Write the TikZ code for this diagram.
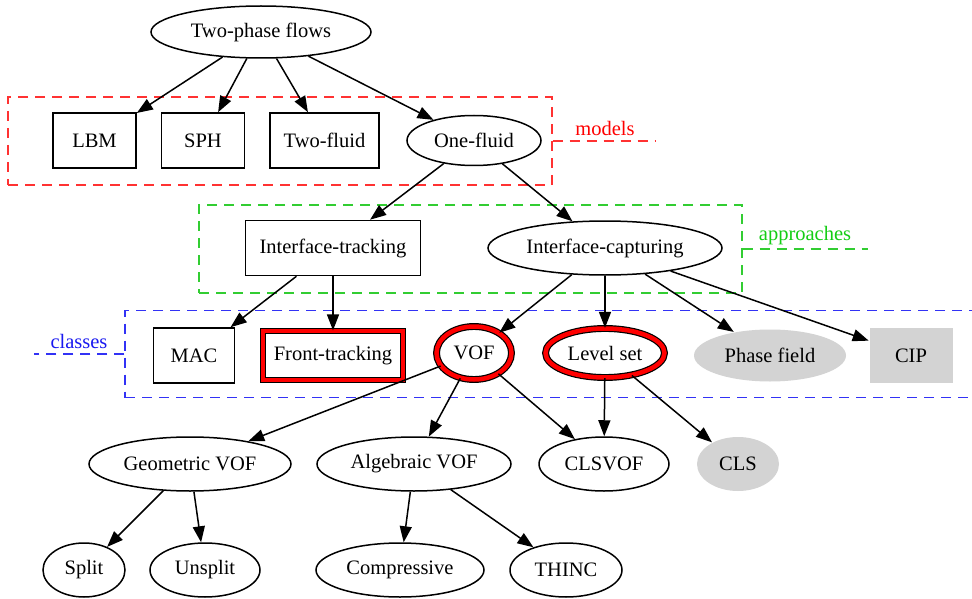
\documentclass[tikz,border=0pt]{standalone}
\usepackage{fontspec}
\setmainfont{Liberation Serif}
\usetikzlibrary{shapes.geometric,arrows.meta}
\definecolor{lgray}{RGB}{211,211,211}
\definecolor{mred}{RGB}{255,0,0}
\definecolor{mredl}{RGB}{255,50,50}
\definecolor{agreen}{RGB}{20,205,20}
\definecolor{agreenl}{RGB}{50,205,50}
\definecolor{cblue}{RGB}{25,25,240}
\definecolor{cbluel}{RGB}{50,50,245}

\begin{document}
\begin{tikzpicture}[x=1pt,y=-1pt,
    font=\fontsize{20.5}{24}\selectfont,
    every node/.style={inner sep=0pt},
    oval/.style={ellipse, draw, line width=1.5pt},
    box/.style={rectangle, draw, line width=1.6pt, minimum height=55pt},
    hilite/.style={line width=1.2pt, double=red, double distance=4.5pt},
    grayed/.style={fill=lgray, draw=none},
    edge/.style={line width=1.5pt, -{Triangle[length=16pt,width=12pt]}},
    cluster/.style={rectangle, draw, dash pattern=on 10pt off 7pt, line width=1.3pt},
    tag/.style={dash pattern=on 10pt off 7pt, line width=1.3pt}]
    \useasboundingbox (0,0) rectangle (972,599);

    % clusters
    \node[cluster, draw=mredl, minimum width=544pt, minimum height=88pt] (models) at (280,141) {};
    \node[cluster, draw=agreenl, minimum width=543pt, minimum height=88pt] (approaches) at (470.5,249) {};
    \node[cluster, draw=cbluel, minimum width=885pt, minimum height=87pt] (classes) at (567.5,354) {};

    % cluster labels
    \node[text=mred] (modelslbl) at (605,128) {models};
    \coordinate (models-end) at (655,141);
    \draw[tag, mredl] (models.east) -- (models-end);
    \node[text=agreen] (approacheslbl) at (805,236) {approaches};
    \coordinate (approaches-end) at (868,249);
    \draw[tag, agreenl] (approaches.east) -- (approaches-end);
    \node[text=cblue] (classeslbl) at (79,341) {classes};
    \coordinate (classes-end) at (34,354);
    \draw[tag, cbluel] (classes.west) -- (classes-end);

    % top
    \node[oval, minimum width=220pt, minimum height=52pt] (two) at (261,32) {Two-phase flows};

    % models
    \node[box, minimum width=83pt] (lbm) at (94.5,140.5) {LBM};
    \node[box, minimum width=83pt] (sph) at (203,140.5) {SPH};
    \node[box, minimum width=109pt] (twofluid) at (324.5,140.5) {Two-fluid};
    \node[oval, minimum width=134pt, minimum height=50pt] (onefluid) at (474,140.5) {One-fluid};

    % approaches
    \node[box, minimum width=175pt] (itrack) at (333,248) {Interface-tracking};
    \node[oval, minimum width=234pt, minimum height=54pt] (icapt) at (605,248) {Interface-capturing};

    % classes
    \node[box, minimum width=81pt] (mac) at (194,355.5) {MAC};
    \node[box, hilite, minimum width=140pt, minimum height=49pt] (front) at (333,355.5) {Front-tracking};
    \node[oval, hilite, minimum width=75pt, minimum height=53pt] (vof) at (474,353) {VOF};
    \node[oval, hilite, minimum width=119pt, minimum height=49pt] (lset) at (605,353) {Level set};
    \node[oval, grayed, minimum width=152pt, minimum height=52pt] (phase) at (770,355.5) {Phase field};
    \node[box, grayed, minimum width=83pt] (cip) at (911,355.5) {CIP};

    % methods
    \node[oval, minimum width=202pt, minimum height=54pt] (geo) at (190,464) {Geometric VOF};
    \node[oval, minimum width=194pt, minimum height=54pt] (alg) at (414,464) {Algebraic VOF};
    \node[oval, minimum width=130pt, minimum height=54pt] (clsvof) at (604,464) {CLSVOF};
    \node[oval, grayed, minimum width=82pt, minimum height=54pt] (cls) at (738,464) {CLS};
    \node[oval, minimum width=82pt, minimum height=54pt] (split) at (84,570) {Split};
    \node[oval, minimum width=110pt, minimum height=54pt] (unsplit) at (205,570) {Unsplit};
    \node[oval, minimum width=168pt, minimum height=54pt] (compr) at (400,570) {Compressive};
    \node[oval, minimum width=112pt, minimum height=54pt] (thinc) at (566,570) {THINC};

    % edges
    \draw[edge] (two) -- (lbm);
    \draw[edge] (two) -- (sph);
    \draw[edge] (two) -- (twofluid);
    \draw[edge] (two) -- (onefluid);
    \draw[edge] (onefluid) -- (itrack);
    \draw[edge] (onefluid) -- (icapt);
    \draw[edge] (itrack) -- (mac);
    \draw[edge] (itrack) -- (front);
    \draw[edge] (icapt) -- (vof);
    \draw[edge] (icapt) -- (lset);
    \draw[edge] (icapt) -- (phase);
    \draw[edge] (icapt) -- (cip);
    \draw[edge] (vof) -- (geo);
    \draw[edge] (vof) -- (alg);
    \draw[edge] (vof) -- (clsvof);
    \draw[edge] (lset) -- (clsvof);
    \draw[edge] (lset) -- (cls);
    \draw[edge] (geo) -- (split);
    \draw[edge] (geo) -- (unsplit);
    \draw[edge] (alg) -- (compr);
    \draw[edge] (alg) -- (thinc);
\end{tikzpicture}
\end{document}
